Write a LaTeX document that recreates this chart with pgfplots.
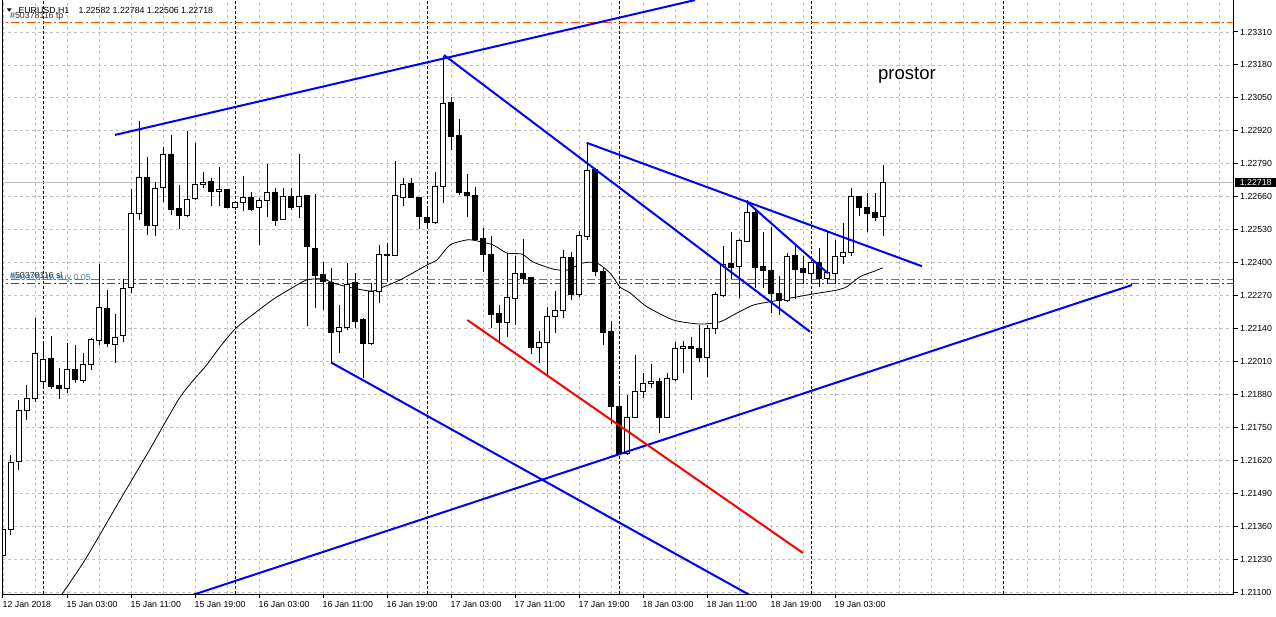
\documentclass[border=0pt]{standalone}
\usepackage{fontspec}
\setmainfont{Liberation Sans}
\usepackage{pgfplots}
\usepackage{pgfplotstable}
\pgfplotsset{compat=1.18}

\definecolor{gridc}{RGB}{192,192,192}
\definecolor{ored}{RGB}{255,69,0}
\definecolor{ogreen}{RGB}{0,128,0}
\definecolor{lblue}{RGB}{70,130,180}
\definecolor{tlblue}{RGB}{0,0,255}

\pgfplotsset{mt/.style={at={(2pt,22pt)}, anchor=south west, scale only axis,
  width=1232pt, height=594pt, xmin=-0.125, xmax=153.875, ymin=1.2109335, ymax=1.234362}}

\pgfplotstableread{
idx open high low close
0 1.21247 1.21365 1.21220 1.21346
1 1.21346 1.21642 1.21326 1.21614
2 1.21614 1.21859 1.21582 1.21819
3 1.21819 1.21918 1.21780 1.21866
4 1.21866 1.22182 1.21851 1.22040
5 1.21930 1.22079 1.21906 1.22020
6 1.22024 1.22111 1.21902 1.21910
7 1.21914 1.21985 1.21862 1.21902
8 1.21902 1.22083 1.21886 1.21977
9 1.21977 1.22075 1.21926 1.21941
10 1.21937 1.22044 1.21926 1.21997
11 1.21997 1.22103 1.21977 1.22099
12 1.22095 1.22395 1.22075 1.22225
13 1.22221 1.22292 1.22068 1.22083
14 1.22079 1.22198 1.22004 1.22107
15 1.22111 1.22336 1.22087 1.22300
16 1.22304 1.22691 1.22281 1.22596
17 1.22596 1.22959 1.22568 1.22738
18 1.22738 1.22817 1.22509 1.22545
19 1.22545 1.22718 1.22505 1.22691
20 1.22695 1.22856 1.22639 1.22825
21 1.22825 1.22904 1.22588 1.22608
22 1.22612 1.22707 1.22533 1.22588
23 1.22588 1.22920 1.22580 1.22651
24 1.22655 1.22872 1.22647 1.22710
25 1.22710 1.22758 1.22695 1.22718
26 1.22722 1.22734 1.22624 1.22679
27 1.22679 1.22778 1.22624 1.22687
28 1.22687 1.22691 1.22614 1.22616
29 1.22616 1.22639 1.22608 1.22636
30 1.22639 1.22742 1.22604 1.22659
31 1.22659 1.22679 1.22604 1.22608
32 1.22616 1.22655 1.22470 1.22647
33 1.22647 1.22789 1.22580 1.22675
34 1.22675 1.22695 1.22545 1.22565
35 1.22572 1.22695 1.22568 1.22663
36 1.22663 1.22695 1.22608 1.22616
37 1.22620 1.22829 1.22576 1.22663
38 1.22667 1.22669 1.22150 1.22462
39 1.22458 1.22671 1.22221 1.22348
40 1.22355 1.22403 1.22214 1.22324
41 1.22320 1.22379 1.22004 1.22123
42 1.22127 1.22233 1.22044 1.22146
43 1.22143 1.22399 1.22135 1.22316
44 1.22320 1.22359 1.22143 1.22170
45 1.22178 1.22180 1.21945 1.22083
46 1.22083 1.22320 1.22075 1.22288
47 1.22288 1.22470 1.22241 1.22434
48 1.22434 1.22478 1.22324 1.22430
49 1.22430 1.22801 1.22426 1.22667
50 1.22659 1.22734 1.22624 1.22710
51 1.22714 1.22734 1.22657 1.22659
52 1.22659 1.22661 1.22533 1.22584
53 1.22580 1.22624 1.22533 1.22557
54 1.22557 1.22758 1.22553 1.22699
55 1.22699 1.23215 1.22636 1.23026
56 1.23030 1.23054 1.22845 1.22896
57 1.22900 1.22967 1.22667 1.22675
58 1.22675 1.22750 1.22580 1.22667
59 1.22667 1.22699 1.22488 1.22490
60 1.22494 1.22537 1.22363 1.22434
61 1.22434 1.22505 1.22143 1.22194
62 1.22198 1.22233 1.22083 1.22166
63 1.22166 1.22438 1.22107 1.22261
64 1.22257 1.22426 1.22154 1.22359
65 1.22359 1.22494 1.22316 1.22336
66 1.22340 1.22342 1.22040 1.22064
67 1.22064 1.22131 1.22004 1.22087
68 1.22087 1.22225 1.21957 1.22186
69 1.22186 1.22288 1.22123 1.22210
70 1.22210 1.22450 1.22182 1.22419
71 1.22419 1.22442 1.22253 1.22273
72 1.22273 1.22525 1.22265 1.22509
73 1.22505 1.22872 1.22490 1.22762
74 1.22766 1.22774 1.22348 1.22367
75 1.22367 1.22379 1.22075 1.22123
76 1.22127 1.22170 1.21764 1.21831
77 1.21831 1.21914 1.21642 1.21649
78 1.21649 1.21878 1.21642 1.21791
79 1.21791 1.22036 1.21788 1.21894
80 1.21894 1.21965 1.21866 1.21922
81 1.21922 1.22001 1.21906 1.21933
82 1.21933 1.21945 1.21728 1.21791
83 1.21791 1.21965 1.21788 1.21945
84 1.21941 1.22087 1.21933 1.22060
85 1.22060 1.22091 1.21965 1.22068
86 1.22068 1.22107 1.21859 1.22060
87 1.22060 1.22154 1.22008 1.22028
88 1.22028 1.22154 1.21949 1.22139
89 1.22139 1.22285 1.22119 1.22273
90 1.22269 1.22466 1.22265 1.22391
91 1.22395 1.22521 1.22336 1.22383
92 1.22387 1.22494 1.22261 1.22486
93 1.22482 1.22647 1.22480 1.22600
94 1.22600 1.22608 1.22300 1.22383
95 1.22387 1.22521 1.22300 1.22371
96 1.22371 1.22541 1.22202 1.22277
97 1.22277 1.22348 1.22194 1.22249
98 1.22249 1.22438 1.22245 1.22426
99 1.22430 1.22470 1.22257 1.22375
100 1.22379 1.22426 1.22316 1.22363
101 1.22359 1.22426 1.22316 1.22399
102 1.22399 1.22458 1.22304 1.22336
103 1.22336 1.22525 1.22316 1.22363
104 1.22359 1.22490 1.22316 1.22426
105 1.22426 1.22557 1.22395 1.22442
106 1.22442 1.22695 1.22426 1.22663
107 1.22663 1.22665 1.22584 1.22616
108 1.22616 1.22675 1.22521 1.22596
109 1.22600 1.22675 1.22565 1.22580
110 1.22582 1.22784 1.22506 1.22718
}\candles

\pgfplotstableread{
idx ma
6.875 1.21070
10.25 1.21228
14.625 1.21464
18.375 1.21665
21.91 1.21859
23.625 1.21930
25.46 1.21997
27.125 1.22068
29.09 1.22141
31.5 1.22202
33.79 1.22256
35.875 1.22296
37.96 1.22332
40 1.22336
41.25 1.22320
43.75 1.22300
46.13 1.22288
47.5 1.22304
49.63 1.22332
53 1.22391
54.25 1.22411
55.88 1.22470
58 1.22490
59.25 1.22486
61.25 1.22470
63 1.22438
64.88 1.22434
66.25 1.22403
68.75 1.22375
70.5 1.22371
72.5 1.22399
74.25 1.22399
75.88 1.22359
77.13 1.22304
78.38 1.22281
80.46 1.22227
83.79 1.22174
87.13 1.22158
89.63 1.22167
91.71 1.22201
93.79 1.22233
95.88 1.22246
99.21 1.22265
101.29 1.22277
104.21 1.22292
105.46 1.22305
107.13 1.22345
108.79 1.22365
109.96 1.22380
}\matable

\begin{document}
\begin{tikzpicture}[font=\fontsize{8.8}{10}\selectfont]
\useasboundingbox (0,0) rectangle (1276pt,616pt);
\fill[white] (0,0) rectangle (1276pt,616pt);
% base axis: grid, ticks, order lines, MA, wicks
\begin{axis}[mt,
  axis line style={draw=none},
  xtick={0,8,...,104},
  xticklabels={12 Jan 2018, 15 Jan 03:00, 15 Jan 11:00, 15 Jan 19:00, 16 Jan 03:00, 16 Jan 11:00, 16 Jan 19:00, 17 Jan 03:00, 17 Jan 11:00, 17 Jan 19:00, 18 Jan 03:00, 18 Jan 11:00, 18 Jan 19:00, 19 Jan 03:00},
  minor xtick={4,8,...,152},
  extra x ticks={5,29,53,77,101,125},
  extra x tick labels={},
  extra x tick style={major grid style={black, line width=0.9pt, dash pattern=on 3pt off 2pt}, major tick length=0pt},
  ytick={1.2110,1.2123,1.2136,1.2149,1.2162,1.2175,1.2188,1.2201,1.2214,1.2227,1.2240,1.2253,1.2266,1.2279,1.2292,1.2305,1.2318,1.2331},
  yticklabels={1.21100,1.21230,1.21360,1.21490,1.21620,1.21750,1.21880,1.22010,1.22140,1.22270,1.22400,1.22530,1.22660,1.22790,1.22920,1.23050,1.23180,1.23310},
  xtick pos=bottom, ytick pos=right, yticklabel pos=right,
  tick align=outside, major tick length=4pt, minor tick length=0pt,
  tick style={black, line width=1pt},
  grid=both,
  major grid style={gridc, line width=0.9pt, dash pattern=on 3pt off 3pt},
  minor grid style={gridc, line width=0.9pt, dash pattern=on 3pt off 3pt},
  xticklabel style={anchor=north west, inner sep=0pt, xshift=-0.5pt, yshift=-3pt},
  yticklabel style={anchor=west, inner sep=0pt, xshift=2pt},
]
\addplot[gridc, line width=1pt] coordinates {(-1,1.22718) (160,1.22718)};
\addplot[ored, line width=1pt, dash pattern=on 8pt off 3pt on 2pt off 3pt] coordinates {(-1,1.23348) (160,1.23348)};
\addplot[ored, line width=1pt, dash pattern=on 8pt off 3pt on 2pt off 3pt] coordinates {(-1,1.22335) (160,1.22335)};
\addplot[ogreen, line width=1pt, dash pattern=on 8pt off 3pt on 2pt off 3pt] coordinates {(-1,1.22319) (160,1.22319)};
\addplot[black, line width=0.8pt, smooth, tension=0.4] table[x=idx, y=ma] {\matable};
\addplot[draw=none, mark=none, error bars/.cd, y dir=plus, y explicit, error mark=none,
  error bar style={draw=black, line width=1pt}]
  table[x=idx, y=low, y error expr={\thisrow{high}-\thisrow{low}}] {\candles};
\end{axis}
% candle bodies
\begin{axis}[mt, hide axis, ybar stacked, bar width=4.3pt]
\addplot[draw=none, fill=none] table[x=idx, y expr={min(\thisrow{open},\thisrow{close})}] {\candles};
\addplot[draw=black, fill=white, line width=1pt] table[x=idx, y expr={max(\thisrow{close}-\thisrow{open},0)}] {\candles};
\addplot[draw=black, fill=black, line width=1pt] table[x=idx, y expr={max(\thisrow{open}-\thisrow{close},0)}] {\candles};
\end{axis}
% trend lines
\begin{axis}[mt, hide axis]
\addplot[tlblue, line width=2pt] coordinates {(14,1.22904) (86.5,1.23436)};
\addplot[tlblue, line width=2pt] coordinates {(55.125,1.23219) (100.875,1.22128)};
\addplot[tlblue, line width=2pt] coordinates {(72.96,1.22873) (114.875,1.22386)};
\addplot[tlblue, line width=2pt] coordinates {(92.96,1.22641) (103.125,1.22358)};
\addplot[tlblue, line width=2pt] coordinates {(41.04,1.22006) (94.6,1.21067)};
\addplot[tlblue, line width=2pt] coordinates {(22.125,1.21073) (141.125,1.22312)};
\addplot[red, line width=2pt] coordinates {(58.04,1.22174) (100,1.21255)};
\end{axis}
% frame
\draw[black, line width=1pt] (2.5pt,616pt) -- (2.5pt,22pt) -- (1233.5pt,22pt) -- (1233.5pt,616pt);
% bid label
\node[fill=black, text=white, anchor=west, inner sep=0pt, minimum width=41pt, minimum height=8.4pt] at (1235pt,433.6pt) {1.22718};
% header
\fill[black] (6.7pt,607.7pt) -- (11.7pt,607.7pt) -- (9.2pt,604.3pt) -- cycle;
\node[anchor=base west, inner sep=0pt] at (18.3pt,602.1pt) {EURUSD,H1};
\node[anchor=base west, inner sep=0pt] at (78.3pt,602.1pt) {1.22582 1.22784 1.22506 1.22718};
\node[anchor=base west, inner sep=0pt, text=black!80] at (10pt,597.1pt) {\#50378116 tp};
\node[anchor=base west, inner sep=0pt, text=black!85] at (10pt,337.8pt) {\#50378116 sl};
\node[anchor=base west, inner sep=0pt, text=lblue] at (11pt,335.8pt) {\#50378116 buy 0.05};
\node[anchor=base west, inner sep=0pt, font=\fontsize{18.5}{20}\selectfont] at (878pt,536pt) {prostor};
\end{tikzpicture}
\end{document}
